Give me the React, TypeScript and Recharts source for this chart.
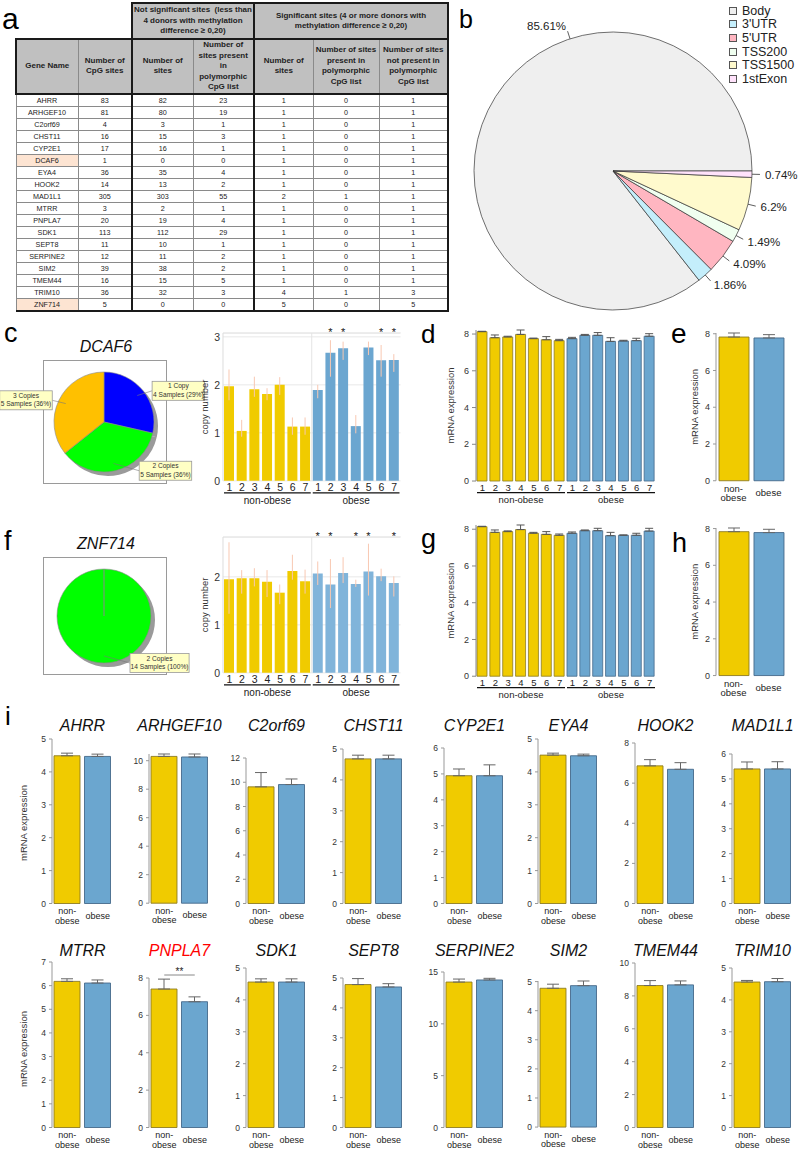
import React from 'react';
import {
  ComposedChart,
  Bar,
  XAxis,
  YAxis,
  CartesianGrid,
  ErrorBar,
  LabelList,
  ReferenceLine,
  Cell,
  PieChart,
  Pie,
  Legend,
} from 'recharts';

const FONT = '"Liberation Sans", Arial, Helvetica, sans-serif';
const YELLOW = '#f0cb00';
const YELLOW_EDGE = '#8d7c22';
const BLUE = '#6ba6cf';
const BLUE_EDGE = '#45698a';
const WHISKER = '#f8c8b2';

// ---------- a: methylation table ----------
const tableGenes = ['AHRR', 'ARHGEF10', 'C2orf69', 'CHST11', 'CYP2E1', 'DCAF6', 'EYA4', 'HOOK2', 'MAD1L1', 'MTRR', 'PNPLA7', 'SDK1', 'SEPT8', 'SERPINE2', 'SIM2', 'TMEM44', 'TRIM10', 'ZNF714'];
const cpgSites = [83, 81, 4, 16, 17, 1, 36, 14, 305, 3, 20, 113, 11, 12, 39, 16, 36, 5];
const nsSites = [82, 80, 3, 15, 16, 0, 35, 13, 303, 2, 19, 112, 10, 11, 38, 15, 32, 0];
const nsPoly = [23, 19, 1, 3, 1, 0, 4, 2, 55, 1, 4, 29, 1, 2, 2, 5, 3, 0];
const sigSites = [1, 1, 1, 1, 1, 1, 1, 1, 2, 1, 1, 1, 1, 1, 1, 1, 4, 5];
const sigPoly = [0, 0, 0, 0, 0, 0, 0, 0, 1, 0, 0, 0, 0, 0, 0, 0, 1, 0];
const sigNotPoly = [1, 1, 1, 1, 1, 1, 1, 1, 1, 1, 1, 1, 1, 1, 1, 1, 3, 5];
const highlightedGenes = ['DCAF6', 'ZNF714'];

// ---------- b: genomic region pie ----------
const regionNames = ['Body', "3'UTR", "5'UTR", 'TSS200', 'TSS1500', '1stExon'];
const regionPercents = [85.61, 1.86, 4.09, 1.49, 6.2, 0.74];
const regionColors = ['#efefef', '#c4eefb', '#ffb6c1', '#f0fff0', '#fffacd', '#ffe2fb'];
const bodyLabelAngle = 108;

// ---------- c / f: copy number ----------
const groups = ['non-obese', 'obese'];
const sampleLabels = ['1', '2', '3', '4', '5', '6', '7'];
const copyNames = ['1 Copy', '2 Copies', '3 Copies'];
const copyColors = ['#0000ff', '#00ff00', '#ffc000'];
const dcaf6Samples = [4, 5, 5];
const znf714Samples = [0, 14, 0];

const dcaf6Copy = [1.97, 1.04, 1.91, 1.81, 2.0, 1.13, 1.13, 1.89, 2.67, 2.76, 1.14, 2.78, 2.51, 2.52];
const dcaf6Low = [1.68, 0.92, 1.75, 1.68, 1.79, 0.96, 0.96, 1.72, 2.17, 2.52, 0.99, 2.62, 2.17, 2.27];
const dcaf6High = [2.32, 1.27, 2.17, 1.93, 2.16, 1.32, 1.32, 2.0, 2.93, 2.9, 1.37, 2.9, 2.83, 2.64];
const dcaf6Stars = [0, 0, 0, 0, 0, 0, 0, 0, 1, 1, 0, 0, 1, 1];

const znf714Copy = [1.95, 1.97, 1.97, 1.9, 1.67, 2.12, 1.91, 2.07, 1.84, 2.08, 1.85, 2.11, 2.01, 1.87];
const znf714Low = [1.23, 1.65, 1.8, 1.58, 1.43, 1.94, 1.65, 1.83, 1.35, 1.87, 1.79, 1.61, 1.91, 1.59];
const znf714High = [2.72, 2.14, 2.18, 2.14, 1.84, 2.46, 2.15, 2.32, 2.37, 2.41, 1.94, 2.69, 2.17, 2.01];
const znf714Stars = [0, 0, 0, 0, 0, 0, 0, 1, 1, 0, 1, 1, 0, 1];
const copyTicks = [0, 1, 2, 3];

// ---------- d / e / g / h: expression ----------
const exprTicks = [0, 2, 4, 6, 8];
const dcaf6Expr = [8.13, 7.8, 7.84, 7.98, 7.75, 7.69, 7.64, 7.75, 7.93, 7.93, 7.6, 7.62, 7.64, 7.88];
const dcaf6ExprSem = [0.02, 0.15, 0.04, 0.24, 0.03, 0.17, 0.07, 0.07, 0.05, 0.15, 0.2, 0.04, 0.13, 0.14];
const dcaf6GroupExpr = [7.82, 7.77];
const dcaf6GroupSem = [0.22, 0.18];
const znf714Expr = [8.14, 7.83, 7.87, 7.98, 7.78, 7.72, 7.67, 7.78, 7.92, 7.92, 7.65, 7.67, 7.67, 7.9];
const znf714ExprSem = [0.02, 0.13, 0.04, 0.25, 0.05, 0.15, 0.07, 0.07, 0.04, 0.13, 0.18, 0.02, 0.11, 0.15];
const znf714GroupExpr = [7.83, 7.78];
const znf714GroupSem = [0.2, 0.18];

// ---------- i: per-gene expression ----------
const iGenes = ['AHRR', 'ARHGEF10', 'C2orf69', 'CHST11', 'CYP2E1', 'EYA4', 'HOOK2', 'MAD1L1', 'MTRR', 'PNPLA7', 'SDK1', 'SEPT8', 'SERPINE2', 'SIM2', 'TMEM44', 'TRIM10'];
const iNonObese = [4.49, 10.3, 9.62, 4.68, 4.93, 4.51, 6.86, 5.4, 6.18, 7.41, 4.56, 4.78, 14.03, 4.77, 8.63, 4.56];
const iObese = [4.47, 10.26, 9.81, 4.68, 4.93, 4.49, 6.69, 5.4, 6.11, 6.73, 4.56, 4.7, 14.23, 4.86, 8.67, 4.57];
const iNonObeseSem = [0.08, 0.17, 1.18, 0.12, 0.26, 0.06, 0.31, 0.28, 0.11, 0.53, 0.1, 0.2, 0.29, 0.14, 0.3, 0.05];
const iObeseSem = [0.07, 0.21, 0.46, 0.12, 0.42, 0.05, 0.33, 0.29, 0.13, 0.26, 0.1, 0.11, 0.16, 0.16, 0.24, 0.1];
const iTicks = [
  [0, 1, 2, 3, 4, 5], [0, 2, 4, 6, 8, 10], [0, 2, 4, 6, 8, 10, 12], [0, 1, 2, 3, 4, 5],
  [0, 1, 2, 3, 4, 5, 6], [0, 1, 2, 3, 4, 5], [0, 2, 4, 6, 8], [0, 1, 2, 3, 4, 5, 6],
  [0, 1, 2, 3, 4, 5, 6, 7], [0, 2, 4, 6, 8], [0, 1, 2, 3, 4, 5], [0, 1, 2, 3, 4, 5],
  [0, 5, 10, 15], [0, 1, 2, 3, 4, 5], [0, 2, 4, 6, 8, 10], [0, 1, 2, 3, 4, 5],
];
const iSignificance = ['', '', '', '', '', '', '', '', '', '**', '', '', '', '', '', ''];
const iRedTitles = ['PNPLA7'];

// layout of the panel-i grid (pixels)
const iAxisX = [52, 149, 246, 343, 444, 538, 635, 732];
const iRowZero = [903.5, 1127.5];
const iTitleBase = [731, 956];
const iTickTopY = [739, 761, 758, 749, 748, 739, 743, 754, 962, 978, 968, 978, 972, 982, 963, 968];

const thin = '1px solid #8a8a8a';
const thick = '2px solid #1a1a1a';

function lines(ls: string[]) {
  return ls.map((l, i) => (
    <React.Fragment key={i}>
      {i > 0 && <br />}
      {l}
    </React.Fragment>
  ));
}

function MethylTable() {
  const colW = [62, 54, 61, 61, 59, 66, 69];
  const head: React.CSSProperties = {
    background: '#c0c0c0', fontWeight: 700, fontSize: 8, lineHeight: '10.5px', textAlign: 'center',
    verticalAlign: 'middle', padding: 0, whiteSpace: 'nowrap', color: '#222',
  };
  const headers = [
    ['Gene Name'], ['Number of', 'CpG sites'], ['Number of', 'sites'],
    ['Number of', 'sites present', 'in', 'polymorphic', 'CpG list'], ['Number of', 'sites'],
    ['Number of sites', 'present in', 'polymorphic', 'CpG list'],
    ['Number of sites', 'not present in', 'polymorphic', 'CpG list'],
  ];
  const cols = [tableGenes, cpgSites, nsSites, nsPoly, sigSites, sigPoly, sigNotPoly];
  const leftB = (c: number) => (c === 2 || c === 4 ? thick : thin);
  const rightB = (c: number) => (c === 6 ? thick : thin);
  return (
    <table style={{ position: 'absolute', left: 15, top: 2, width: 432, borderCollapse: 'collapse', tableLayout: 'fixed', fontFamily: FONT }}>
      <colgroup>
        {colW.map((w, i) => <col key={i} style={{ width: w }} />)}
      </colgroup>
      <tbody>
        <tr style={{ height: 36 }}>
          <td colSpan={2} style={{ padding: 0, border: 'none' }} />
          <td colSpan={2} style={{ ...head, border: thick }}>
            {lines(['Not significant sites\u00a0 (less than', '4 donors with methylation', 'difference \u2265 0,20)'])}
          </td>
          <td colSpan={3} style={{ ...head, border: thick }}>
            {lines(['Significant sites (4 or more donors with', 'methylation difference \u2265 0,20)'])}
          </td>
        </tr>
        <tr style={{ height: 54 }}>
          {headers.map((h, c) => (
            <td key={c} style={{ ...head, borderTop: thick, borderBottom: thick, borderLeft: c === 0 ? thick : leftB(c), borderRight: rightB(c) }}>
              {lines(h)}
            </td>
          ))}
        </tr>
        {tableGenes.map((g, r) => (
          <tr key={g} style={{ height: 12 }}>
            {cols.map((col, c) => (
              <td
                key={c}
                style={{
                  fontSize: 7.2, lineHeight: '11px', textAlign: 'center', padding: 0, color: '#222',
                  borderTop: thin, borderBottom: r === tableGenes.length - 1 ? thick : thin,
                  borderLeft: leftB(c), borderRight: rightB(c),
                  background: c === 0 && highlightedGenes.includes(g) ? '#fde4d2' : '#fff',
                }}
              >
                {col[r]}
              </td>
            ))}
          </tr>
        ))}
      </tbody>
    </table>
  );
}

function RegionPie() {
  const data = regionNames.map((name, i) => ({ name, value: regionPercents[i] }));
  const renderLabel = (lp: any) => {
    const { cx, cy, outerRadius, midAngle, index, value } = lp;
    const ang = index === 0 ? bodyLabelAngle : midAngle;
    const rad = (ang * Math.PI) / 180;
    const c = Math.cos(rad);
    const s = -Math.sin(rad);
    const at = (r: number) => [cx + r * c, cy + r * s];
    const [x1, y1] = at(outerRadius);
    const [x2, y2] = at(outerRadius + 8);
    const [tx, ty] = at(outerRadius + 13);
    return (
      <g key={`l${index}`}>
        <line x1={x1} y1={y1} x2={x2} y2={y2} stroke="#333" strokeWidth={0.8} />
        <text x={tx} y={ty} textAnchor={c >= 0 ? 'start' : 'end'} dominantBaseline="central" fontSize={11.5} fill="#222" fontFamily={FONT}>
          {`${value}%`}
        </text>
      </g>
    );
  };
  const legend = () => (
    <div style={{ fontFamily: FONT, fontSize: 12.5, color: '#222' }}>
      {regionNames.map((n, i) => (
        <div key={n} style={{ display: 'flex', alignItems: 'center', height: 13.6 }}>
          <span style={{ display: 'inline-block', width: 6, height: 6, background: regionColors[i], border: '1px solid #555', marginRight: 5 }} />
          {n}
        </div>
      ))}
    </div>
  );
  return (
    <div style={{ position: 'absolute', left: 450, top: 0 }}>
      <PieChart width={349} height={318} margin={{ top: 0, right: 0, bottom: 0, left: 0 }}>
        <Pie
          data={data}
          dataKey="value"
          nameKey="name"
          cx={163}
          cy={171}
          outerRadius={139}
          startAngle={0}
          endAngle={360}
          stroke="#333"
          strokeWidth={0.7}
          label={renderLabel}
          labelLine={false}
          isAnimationActive={false}
        >
          {data.map((d, i) => <Cell key={d.name} fill={regionColors[i]} />)}
        </Pie>
        <Legend layout="vertical" verticalAlign="top" align="right" wrapperStyle={{ left: 279, top: 4, width: 70 }} content={legend} />
      </PieChart>
    </div>
  );
}

function CopyPie({ samples, top, cy, r, boxTop, boxH }: { samples: number[]; top: number; cy: number; r: number; boxTop: number; boxH: number }) {
  const data = copyNames
    .map((name, i) => ({ name, samples: samples[i], color: copyColors[i] }))
    .filter((d) => d.samples > 0);
  const renderLabel = (lp: any) => {
    const { cx, cy: pcy, outerRadius, midAngle, payload, percent, index } = lp;
    const rad = (midAngle * Math.PI) / 180;
    const c = Math.cos(rad);
    const s = Math.sin(rad);
    const side = c >= -1e-9 ? 1 : -1;
    const ex = cx + outerRadius * c;
    const ey = pcy - outerRadius * s;
    const ix = cx + outerRadius * 0.85 * c;
    const iy = pcy - outerRadius * 0.85 * s;
    const gap = 6 + 20 * Math.pow(Math.abs(s), 4);
    const line2 = `${payload.samples} Samples (${Math.round(percent * 100)}%)`;
    const w = line2.length * 3.3 + 3;
    const h = 19;
    const near = ex + side * gap;
    const bx = side > 0 ? near : near - w;
    return (
      <g key={`c${index}`}>
        <line x1={ix} y1={iy} x2={near} y2={ey} stroke="#777" strokeWidth={0.6} />
        <rect x={bx} y={ey - h / 2} width={w} height={h} fill="#ffffc4" stroke="#999" strokeWidth={0.8} />
        <text x={bx + w / 2} y={ey - 2.5} textAnchor="middle" fontSize={6.6} fill="#333" fontFamily={FONT}>{payload.name}</text>
        <text x={bx + w / 2} y={ey + 6} textAnchor="middle" fontSize={6.6} fill="#333" fontFamily={FONT}>{line2}</text>
      </g>
    );
  };
  return (
    <>
      <div style={{ position: 'absolute', left: 43, top: boxTop, width: 122, height: boxH, border: '1px solid #9a9a9a', background: '#fff' }} />
      <div style={{ position: 'absolute', left: 0, top }}>
        <PieChart width={215} height={140} margin={{ top: 0, right: 0, bottom: 0, left: 0 }}>
          <Pie data={data} dataKey="samples" cx={108} cy={cy + 4} outerRadius={r} startAngle={90} endAngle={-270} fill="#9a9a9a" stroke="none" isAnimationActive={false} label={false}>
            {data.map((d) => <Cell key={d.name} fill="#9a9a9a" />)}
          </Pie>
          <Pie data={data} dataKey="samples" nameKey="name" cx={104} cy={cy} outerRadius={r} startAngle={90} endAngle={-270} stroke="#8a8a8a" strokeWidth={0.6} label={renderLabel} labelLine={false} isAnimationActive={false}>
            {data.map((d) => <Cell key={d.name} fill={d.color} />)}
          </Pie>
        </PieChart>
      </div>
    </>
  );
}

type SampleProps = {
  values: number[];
  low?: number[];
  high?: number[];
  sem?: number[];
  stars?: number[];
  ticks: number[];
  yMax?: number;
  copy?: boolean;
  obeseColor: string;
  plotX: number;
  plotW: number;
  zeroY: number;
  pxPerUnit: number;
  axisW: number;
  yLabel: string;
  labelOffset: number;
};

function SampleBars(p: SampleProps) {
  const copy = !!p.copy;
  const rows = p.values.map((v, i) => ({
    id: `${i < 7 ? 'n' : 'o'}${sampleLabels[i % 7]}`,
    label: sampleLabels[i % 7],
    group: groups[i < 7 ? 0 : 1],
    v,
    err: copy ? [v - (p.low as number[])[i], (p.high as number[])[i] - v] : [0, (p.sem as number[])[i]],
    star: p.stars && p.stars[i] ? '*' : '',
  }));
  const tickMax = p.ticks[p.ticks.length - 1];
  const dataTop = Math.max(...rows.map((r) => r.v + r.err[1]));
  const domTop = copy ? (p.yMax as number) : Math.max(tickMax, dataTop);
  const plotH = domTop * p.pxPerUnit;
  const mt = 12;
  const mr = 3;
  const xh1 = 11;
  const xh2 = 14;
  const width = p.axisW + p.plotW + mr;
  const height = mt + plotH + xh1 + xh2;
  const half = p.plotW / 4;
  const digitOff = copy ? 7 : 6.5;
  const lineOff = copy ? 12 : 11.5;
  const textOff = copy ? 19.5 : 18.5;
  const digitTick = (t: any) => (
    <text x={t.x} y={t.y + digitOff} textAnchor="middle" dominantBaseline="central" fontSize={copy ? 10.5 : 9.5} fill="#222" fontFamily={FONT}>
      {rows[t.index] ? rows[t.index].label : ''}
    </text>
  );
  const groupTick = (t: any) => (
    <g>
      <line x1={t.x - half + 1} x2={t.x + half - 1} y1={t.y + lineOff - xh1} y2={t.y + lineOff - xh1} stroke="#111" strokeWidth={1.3} />
      <text x={t.x} y={t.y + textOff - xh1} textAnchor="middle" dominantBaseline="central" fontSize={copy ? 10 : 9.5} fill="#222" fontFamily={FONT}>
        {t.payload.value}
      </text>
    </g>
  );
  const starContent = (lp: any) => {
    if (!lp.value) return null;
    const vb = lp.viewBox || lp;
    return (
      <text x={Number(vb.x) + Number(vb.width) / 2} y={mt + 3} textAnchor="middle" fontSize={11} fill="#222" fontFamily={FONT}>
        *
      </text>
    );
  };
  return (
    <div style={{ position: 'absolute', left: p.plotX - p.axisW, top: p.zeroY - plotH - mt }}>
      <ComposedChart width={width} height={height} data={rows} margin={{ top: mt, right: mr, bottom: 0, left: 0 }}>
        {copy && <CartesianGrid vertical={false} stroke="#e8e8e8" />}
        <XAxis dataKey="id" interval={0} height={xh1} tickLine={false} axisLine={false} tickSize={0} tickMargin={0} tick={digitTick} />
        <XAxis xAxisId="grp" dataKey="group" allowDuplicatedCategory={false} interval={0} height={xh2} tickLine={false} axisLine={false} tickSize={0} tickMargin={0} tick={groupTick} />
        <YAxis
          width={p.axisW}
          domain={[0, domTop]}
          ticks={p.ticks}
          interval={0}
          tickLine={copy ? false : { stroke: '#888' }}
          tickSize={copy ? 0 : 4}
          tickMargin={copy ? 3 : 3}
          axisLine={{ stroke: copy ? '#dcdcdc' : '#888' }}
          tick={{ fontSize: copy ? 10.5 : 9, fill: '#333', fontFamily: FONT }}
          label={{ value: p.yLabel, angle: -90, position: 'insideLeft', offset: p.labelOffset, style: { textAnchor: 'middle', fontSize: 9.5, fill: '#333', fontFamily: FONT } }}
        />
        {copy && <ReferenceLine y={domTop} stroke="#e4e4e4" />}
        {copy && <ReferenceLine x="o1" position="start" stroke="#e4e4e4" />}
        <Bar dataKey="v" barSize={10} isAnimationActive={false}>
          {rows.map((r, i) => (
            <Cell
              key={r.id}
              fill={i < 7 ? YELLOW : p.obeseColor}
              stroke={copy ? 'none' : i < 7 ? YELLOW_EDGE : BLUE_EDGE}
              strokeWidth={copy ? 0 : 0.8}
            />
          ))}
          <ErrorBar dataKey="err" direction="y" width={copy ? 0 : 4} stroke={copy ? WHISKER : '#555'} strokeWidth={1} isAnimationActive={false} />
          {p.stars && <LabelList dataKey="star" content={starContent} />}
        </Bar>
      </ComposedChart>
    </div>
  );
}

type GroupProps = {
  values: number[];
  sem: number[];
  ticks: number[];
  plotX: number;
  plotW: number;
  zeroY: number;
  tickTopY: number;
  axisW: number;
  barSize: number;
  tickFont: number;
  labelFont: number;
  yLabel?: string;
  labelOffset?: number;
  sig?: string;
};

function GroupBars(p: GroupProps) {
  const tickMax = p.ticks[p.ticks.length - 1];
  const pxPerUnit = (p.zeroY - p.tickTopY) / tickMax;
  const rows = groups.map((g, i) => ({ group: g, v: p.values[i], err: [0, p.sem[i]] }));
  const domTop = Math.max(tickMax, ...rows.map((r) => r.v + r.err[1]));
  const plotH = domTop * pxPerUnit;
  const mt = 16;
  const mr = 2;
  const xh = 26;
  const sigY = domTop + 3 / pxPerUnit;
  const groupTick = (t: any) =>
    t.payload.value === groups[0] ? (
      <g>
        <text x={t.x} y={t.y + 7.5} textAnchor="middle" dominantBaseline="central" fontSize={p.labelFont} fill="#222" fontFamily={FONT}>non-</text>
        <text x={t.x} y={t.y + 17} textAnchor="middle" dominantBaseline="central" fontSize={p.labelFont} fill="#222" fontFamily={FONT}>obese</text>
      </g>
    ) : (
      <text x={t.x} y={t.y + 12} textAnchor="middle" dominantBaseline="central" fontSize={p.labelFont} fill="#222" fontFamily={FONT}>obese</text>
    );
  return (
    <div style={{ position: 'absolute', left: p.plotX - p.axisW, top: p.zeroY - plotH - mt }}>
      <ComposedChart width={p.axisW + p.plotW + mr} height={mt + plotH + xh} data={rows} margin={{ top: mt, right: mr, bottom: 0, left: 0 }}>
        <XAxis dataKey="group" interval={0} height={xh} tickLine={false} axisLine={false} tickSize={0} tickMargin={0} tick={groupTick} />
        <YAxis
          width={p.axisW}
          domain={[0, domTop]}
          ticks={p.ticks}
          interval={0}
          tickLine={{ stroke: '#999' }}
          tickSize={3}
          tickMargin={3}
          axisLine={{ stroke: '#999' }}
          tick={{ fontSize: p.tickFont, fill: '#333', fontFamily: FONT }}
          label={p.yLabel ? { value: p.yLabel, angle: -90, position: 'insideLeft', offset: p.labelOffset, style: { textAnchor: 'middle', fontSize: 9.5, fill: '#333', fontFamily: FONT } } : undefined}
        />
        <Bar dataKey="v" barSize={p.barSize} isAnimationActive={false}>
          {rows.map((r, i) => (
            <Cell key={r.group} fill={i === 0 ? YELLOW : BLUE} stroke={i === 0 ? YELLOW_EDGE : BLUE_EDGE} strokeWidth={0.9} />
          ))}
          <ErrorBar dataKey="err" direction="y" width={6} stroke="#666" strokeWidth={1} isAnimationActive={false} />
        </Bar>
        {p.sig && (
          <ReferenceLine
            segment={[{ x: groups[0], y: sigY }, { x: groups[1], y: sigY }]}
            ifOverflow="visible"
            stroke="#888"
            strokeWidth={1}
            label={{ value: p.sig, position: 'top', offset: 0, fontSize: 10, fill: '#222' }}
          />
        )}
      </ComposedChart>
    </div>
  );
}

function Overlay() {
  const letters: [string, number, number, number][] = [
    ['a', 2, 29, 30], ['b', 459, 28, 25], ['c', 4, 342, 27], ['d', 421, 343, 26], ['e', 671, 343, 28],
    ['f', 4, 550, 27], ['g', 421, 548, 27], ['h', 672, 552, 27], ['i', 5, 725, 26],
  ];
  return (
    <svg width={799} height={1150} style={{ position: 'absolute', left: 0, top: 0, pointerEvents: 'none' }} fontFamily={FONT}>
      {letters.map(([t, x, y, s]) => (
        <text key={t} x={x} y={y} fontSize={s} fill="#000">{t}</text>
      ))}
      <text x={106} y={352} textAnchor="middle" fontSize={16} fontStyle="italic" fill="#111">DCAF6</text>
      <text x={106} y={549} textAnchor="middle" fontSize={16} fontStyle="italic" fill="#111">ZNF714</text>
      {iGenes.map((g, k) => (
        <text key={g} x={iAxisX[k % 8] + 30.5} y={iTitleBase[k < 8 ? 0 : 1]} textAnchor="middle" fontSize={16} fontStyle="italic" fill={iRedTitles.includes(g) ? '#ff0000' : '#111'}>
          {g}
        </text>
      ))}
      <text x={23} y={823} transform="rotate(-90 23 823)" textAnchor="middle" dominantBaseline="central" fontSize={9.5} fill="#333">mRNA expression</text>
      <text x={23} y={1049} transform="rotate(-90 23 1049)" textAnchor="middle" dominantBaseline="central" fontSize={9.5} fill="#333">mRNA expression</text>
    </svg>
  );
}

export default function App() {
  return (
    <div style={{ position: 'absolute', left: 0, top: 0, width: 799, height: 1150, background: '#fff', fontFamily: FONT, overflow: 'hidden' }}>
      <MethylTable />
      <RegionPie />

      <CopyPie samples={dcaf6Samples} top={355} cy={67} r={50} boxTop={360} boxH={122} />
      <CopyPie samples={znf714Samples} top={550} cy={66} r={47} boxTop={557} boxH={116} />

      <SampleBars values={dcaf6Copy} low={dcaf6Low} high={dcaf6High} stars={dcaf6Stars} ticks={copyTicks} yMax={3.08} copy obeseColor="#6ba6d0"
        plotX={223} plotW={177.5} zeroY={481} pxPerUnit={48} axisW={30} yLabel="copy number" labelOffset={12} />
      <SampleBars values={znf714Copy} low={znf714Low} high={znf714High} stars={znf714Stars} ticks={copyTicks.slice(0, 3)} yMax={2.83} copy obeseColor="#80b4da"
        plotX={223} plotW={177.5} zeroY={673} pxPerUnit={48} axisW={30} yLabel="copy number" labelOffset={12} />

      <SampleBars values={dcaf6Expr} sem={dcaf6ExprSem} ticks={exprTicks} obeseColor={BLUE}
        plotX={476} plotW={180} zeroY={481} pxPerUnit={18.375} axisW={36} yLabel="mRNA expression" labelOffset={11} />
      <SampleBars values={znf714Expr} sem={znf714ExprSem} ticks={exprTicks} obeseColor={BLUE}
        plotX={476} plotW={180} zeroY={676} pxPerUnit={18.375} axisW={36} yLabel="mRNA expression" labelOffset={11} />

      <GroupBars values={dcaf6GroupExpr} sem={dcaf6GroupSem} ticks={exprTicks} plotX={716} plotW={70} zeroY={481} tickTopY={334}
        axisW={36} barSize={30} tickFont={9} labelFont={9.5} yLabel="mRNA expression" labelOffset={15} />
      <GroupBars values={znf714GroupExpr} sem={znf714GroupSem} ticks={exprTicks} plotX={716} plotW={70} zeroY={676} tickTopY={529}
        axisW={36} barSize={30} tickFont={9} labelFont={9.5} yLabel="mRNA expression" labelOffset={15} />

      {iGenes.map((g, k) => (
        <GroupBars
          key={g}
          values={[iNonObese[k], iObese[k]]}
          sem={[iNonObeseSem[k], iObeseSem[k]]}
          ticks={iTicks[k]}
          plotX={iAxisX[k % 8]}
          plotW={61}
          zeroY={iRowZero[k < 8 ? 0 : 1]}
          tickTopY={iTickTopY[k]}
          axisW={24}
          barSize={26}
          tickFont={8.5}
          labelFont={9}
          sig={iSignificance[k]}
        />
      ))}

      <Overlay />
    </div>
  );
}
